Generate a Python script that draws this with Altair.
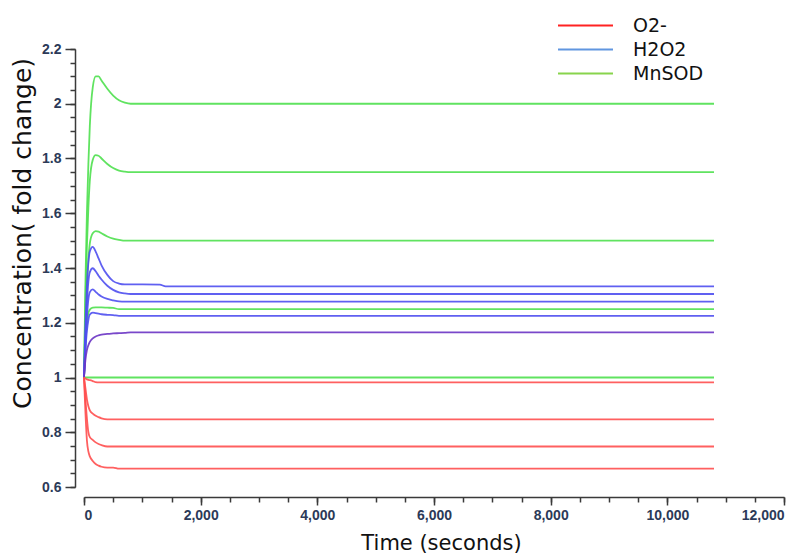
import altair as alt
import pandas as pd

# shared time grid (seconds)
T = [0, 25, 50, 75, 100, 150, 200, 250, 300, 400, 500, 600, 700, 800, 1000, 1300, 1400, 10800]

# MnSOD curves
mnsod_200 = [1.0, 1.35, 1.60, 1.78, 1.92, 2.06, 2.100, 2.100, 2.085, 2.055, 2.030, 2.013, 2.004, 2.0, 2.0, 2.0, 2.0, 2.0]
mnsod_175 = [1.0, 1.28, 1.48, 1.62, 1.72, 1.795, 1.812, 1.810, 1.800, 1.780, 1.765, 1.756, 1.752, 1.75, 1.75, 1.75, 1.75, 1.75]
mnsod_150 = [1.0, 1.20, 1.34, 1.43, 1.49, 1.527, 1.535, 1.533, 1.527, 1.515, 1.507, 1.503, 1.50, 1.50, 1.50, 1.50, 1.50, 1.50]
mnsod_125 = [1.0, 1.12, 1.20, 1.235, 1.248, 1.255, 1.256, 1.256, 1.256, 1.255, 1.254, 1.25, 1.25, 1.25, 1.25, 1.25, 1.25, 1.25]
mnsod_100 = [1.0] * 18

# H2O2 curves
h2o2_a = [1.0, 1.20, 1.34, 1.42, 1.46, 1.477, 1.46, 1.435, 1.41, 1.375, 1.352, 1.343, 1.340, 1.340, 1.340, 1.339, 1.333, 1.333]
h2o2_b = [1.0, 1.15, 1.27, 1.35, 1.385, 1.399, 1.388, 1.372, 1.358, 1.335, 1.320, 1.311, 1.307, 1.305, 1.305, 1.305, 1.305, 1.305]
h2o2_c = [1.0, 1.12, 1.22, 1.285, 1.312, 1.322, 1.313, 1.303, 1.296, 1.287, 1.282, 1.278, 1.277, 1.277, 1.277, 1.277, 1.277, 1.277]
h2o2_d = [1.0, 1.10, 1.17, 1.21, 1.23, 1.237, 1.235, 1.233, 1.231, 1.229, 1.228, 1.225, 1.225, 1.225, 1.225, 1.225, 1.225, 1.225]
h2o2_e = [1.0, 1.065, 1.10, 1.118, 1.13, 1.143, 1.15, 1.154, 1.157, 1.159, 1.161, 1.162, 1.163, 1.165, 1.165, 1.165, 1.165, 1.165]

# O2- curves
o2_a = [1.0, 0.996, 0.993, 0.991, 0.990, 0.987, 0.983, 0.982, 0.982, 0.982, 0.982, 0.982, 0.982, 0.982, 0.982, 0.982, 0.982, 0.982]
o2_b = [1.0, 0.96, 0.92, 0.895, 0.88, 0.868, 0.86, 0.855, 0.851, 0.847, 0.847, 0.847, 0.847, 0.847, 0.847, 0.847, 0.847, 0.847]
o2_c = [1.0, 0.92, 0.85, 0.80, 0.782, 0.772, 0.763, 0.757, 0.753, 0.748, 0.748, 0.748, 0.748, 0.748, 0.748, 0.748, 0.748, 0.748]
o2_d = [1.0, 0.87, 0.77, 0.73, 0.712, 0.695, 0.684, 0.678, 0.674, 0.671, 0.671, 0.667, 0.667, 0.667, 0.667, 0.667, 0.667, 0.667]

curves = [
    ("m1", "green", mnsod_200), ("m2", "green", mnsod_175), ("m3", "green", mnsod_150),
    ("m4", "green", mnsod_125), ("m5", "green", mnsod_100),
    ("h1", "blue", h2o2_a), ("h2", "blue", h2o2_b), ("h3", "blue", h2o2_c),
    ("h4", "blue", h2o2_d), ("h5", "purple", h2o2_e),
    ("o1", "red", o2_a), ("o2", "red", o2_b), ("o3", "red", o2_c), ("o4", "red", o2_d),
]
shade_domain = ["red", "blue", "purple", "green"]
shade_colors = ["#ff4f4f", "#4f4ff0", "#6a34c4", "#4fe04f"]

legend_names = ["O2-", "H2O2", "MnSOD"]
legend_colors = ["#ff2222", "#6096e0", "#88d44c"]

x_major = [0, 2000, 4000, 6000, 8000, 10000, 12000]
x_minor = list(range(0, 12001, 500))
y_major = [0.6, 0.8, 1.0, 1.2, 1.4, 1.6, 1.8, 2.0, 2.2]
y_minor = [round(0.6 + 0.05 * i, 2) for i in range(33)]

rows = []
for cid, shade, vals in curves:
    for t, v in zip(T, vals):
        rows.append({"curve": cid, "shade": shade, "t": t, "v": v})
df = pd.DataFrame(rows)
leg_df = pd.DataFrame({"series": legend_names, "t": [0] * 3, "v": [1.0] * 3})

xs = alt.Scale(domain=[0, 12000], nice=False)
ys = alt.Scale(domain=[0.6, 2.2], nice=False, zero=False)

lab_font = "Liberation Sans"
lab_color = "#2c3a58"
ax_color = "#3a3a3a"
title_font = "DejaVu Sans"

lines = alt.Chart(df).mark_line(strokeWidth=1.8, opacity=0.9, interpolate="monotone").encode(
    x=alt.X("t:Q", scale=xs, axis=alt.Axis(
        values=x_major, format=",.0f", orient="bottom", offset=10, tickSize=8,
        labelFont=lab_font, labelFontSize=14, labelFontWeight="bold", labelColor=lab_color,
        labelPadding=3, domainColor=ax_color, tickColor=ax_color, domainWidth=1.5, tickWidth=1.5,
        grid=False, title="Time (seconds)", titleFont=title_font, titleFontSize=21,
        titleFontWeight="normal", titleColor="#111111", titlePadding=10, titleX=357)),
    y=alt.Y("v:Q", scale=ys, axis=alt.Axis(
        values=y_major, format=".2~f", orient="left", offset=9, tickSize=10,
        labelFont=lab_font, labelFontSize=14, labelFontWeight="bold", labelColor=lab_color,
        labelPadding=4, domainColor=ax_color, tickColor=ax_color, domainWidth=1.5, tickWidth=1.5,
        grid=False, title="Concentration( fold change)", titleFont=title_font, titleFontSize=25,
        titleFontWeight="normal", titleColor="#111111", titleX=-40, titleY=184)),
    color=alt.Color("shade:N", scale=alt.Scale(domain=shade_domain, range=shade_colors), legend=None),
    detail="curve:N",
)

minor = alt.Chart(df).mark_line(opacity=0).encode(
    x=alt.X("t:Q", scale=xs, axis=alt.Axis(
        values=x_minor, labels=False, domain=False, orient="bottom", offset=10, tickSize=5,
        tickColor=ax_color, tickWidth=1.5, grid=False, title=None)),
    y=alt.Y("v:Q", scale=ys, axis=alt.Axis(
        values=y_minor, labels=False, domain=False, orient="left", offset=9, tickSize=5,
        tickColor=ax_color, tickWidth=1.5, grid=False, title=None)),
    detail="curve:N",
)

legend = alt.Chart(leg_df).mark_line(strokeWidth=2).encode(
    x=alt.X("t:Q", scale=xs, axis=None),
    y=alt.Y("v:Q", scale=ys, axis=None),
    color=alt.Color("series:N", scale=alt.Scale(domain=legend_names, range=legend_colors),
                    sort=legend_names,
                    legend=alt.Legend(title=None, orient="none", legendX=491, legendY=-34,
                                      symbolType="M-3,0L3,0", symbolSize=336, symbolStrokeWidth=2,
                                      labelFont=title_font, labelFontSize=19, labelColor="#111111",
                                      labelOffset=37, rowPadding=3, padding=0)),
)

chart = alt.layer(lines, minor, legend).resolve_axis(
    x="independent", y="independent"
).resolve_scale(color="independent").properties(
    width=700, height=438,
    autosize=alt.AutoSizeParams(type="none"),
    padding={"left": 76, "top": 41, "right": 16, "bottom": 70},
).configure_view(stroke=None)

chart.save("out.html", embed_options={"renderer": "svg", "actions": False})
